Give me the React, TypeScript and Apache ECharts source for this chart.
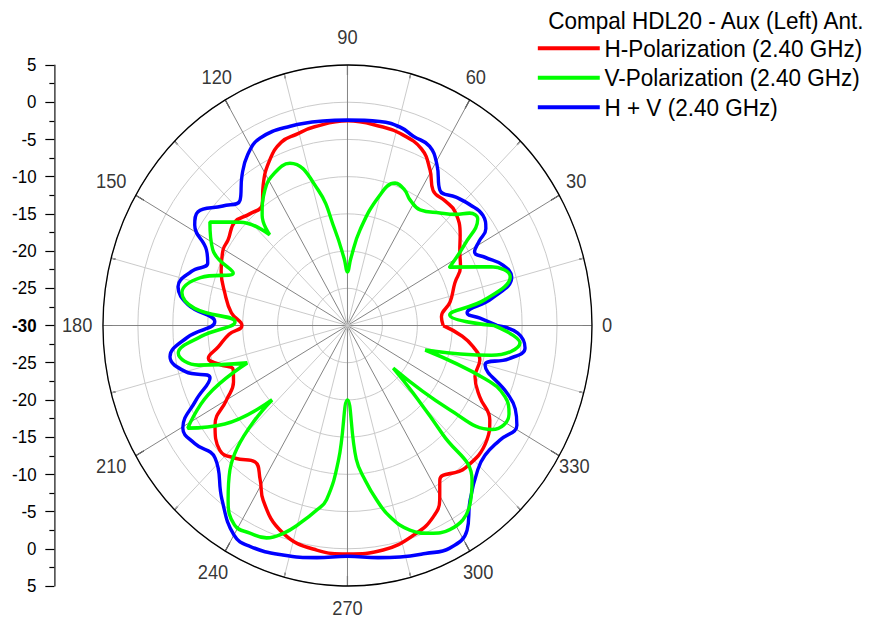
import React, { useEffect, useRef } from "react";
import * as echarts from "echarts";

// horizontal squeeze of the reference picture
const SX = 0.9386;
const W = 875 / SX;
const FONT = '"Liberation Sans", Arial, Helvetica, sans-serif';

const TITLE = "Compal HDL20 - Aux (Left) Ant.";
const NAMES = ["H-Polarization (2.40 GHz)", "V-Polarization (2.40 GHz)", "H + V (2.40 GHz)"];
const COLORS = ["#ff0000", "#00ff00", "#0000ff"];
const ANGLE_LABELS = [0, 30, 60, 90, 120, 150, 180, 210, 240, 270, 300, 330];

// H-Polarization (red): angle (deg) / gain (dB)
const H_ANG = [0, 5, 12, 20.4, 26, 32.2, 37, 44.7, 50, 56, 60.5, 66, 73.8, 79.2, 90, 100, 106, 111, 116.5, 122.6, 127, 133, 139.2, 146.1, 150.3, 158, 166, 174.2, 180, 184, 188.8, 192.5, 196, 200, 205, 210, 215.2, 222.5, 228, 234.2, 238.9, 242.8, 251.8, 261.7, 270, 279.6, 289.5, 295.5, 299.4, 302.5, 311.3, 322.4, 328.1, 333.2, 339.4, 346.3, 351, 355, 360];
const H_DB = [-16.3, -16.5, -15, -13.6, -12, -11, -9.8, -8.3, -8.2, -8.1, -6, -4, -3.1, -2.85, -2.5, -2.9, -3.3, -3.6, -5.1, -7.6, -9.7, -9.5, -8.7, -9.4, -9.5, -10.5, -11.9, -13.3, -14.9, -13, -11.3, -9.6, -11, -12.6, -12, -10, -6.8, -5.2, -6, -7.4, -5.8, -3.6, -0.6, 0.5, 0.7, 0.6, -0.4, -1.5, -3.1, -5.4, -4.5, -4.8, -6, -8.8, -10.5, -10.5, -11.8, -13.5, -16.3];

// V-Polarization (green)
const V_ANG = [0, 5.5, 10, 15.7, 21, 28.2, 33, 37.5, 40.8, 44, 48.8, 56.2, 62, 66, 70.4, 75.2, 82, 87, 90, 93, 98, 103, 110.7, 117, 123, 129.5, 132.4, 137.9, 144.8, 152.2, 156.7, 163, 169.5, 174, 178.3, 184, 188.7, 194, 199.3, 205, 211.1, 217, 222.8, 229.1, 233.9, 238.9, 243.4, 247.9, 251.8, 255.7, 259.9, 262.7, 266, 270, 274, 277, 280.1, 283.3, 288, 292.9, 298.1, 306, 310.6, 313, 316, 318.8, 322.3, 326, 332.8, 337, 340, 343.5, 349, 354.6, 360];
const V_DB = [-9, -15.3, -10, -5.8, -8, -13.4, -10, -6.5, -6.9, -8.5, -9.9, -11.3, -10.9, -10, -9.7, -11.9, -17, -21, -22.8, -21, -17, -11.3, -6.7, -7, -8.3, -10.8, -13.5, -9.3, -5.9, -8.2, -12.2, -8, -5.9, -8, -13.9, -9, -5.5, -8, -14.8, -8, -3.3, -8, -15.3, -4.3, -1, 1.3, 1.2, 0.8, -0.6, -2.6, -4.8, -6.4, -12, -20, -12, -9, -6.2, -3.6, -1.1, 0.3, 1.1, -0.2, -2.6, -10, -17, -21.3, -11.5, -5, -4, -5.5, -9, -18.4, -9, -5.2, -9];

// H + V (blue)
const HV_ANG = [0, 3, 5.6, 10, 15.5, 20, 25, 28.5, 31, 33.3, 37.4, 42.7, 48, 54, 59.3, 64, 69.5, 74.3, 80.4, 90, 97.2, 107, 116.5, 122, 126.8, 132.4, 138, 144.5, 148.3, 153.3, 157.2, 162, 167.9, 173, 178.5, 184, 189.4, 195, 199.7, 205, 210.3, 216, 223.2, 232.5, 240, 244.8, 253.3, 262, 270, 278, 283.6, 290, 296.1, 301.9, 306.8, 313.9, 318.5, 324.8, 331.1, 335, 338.3, 344.9, 349, 353.2, 357.6, 360];
const HV_DB = [-8.6, -11, -12.8, -9, -5.6, -6.3, -8.3, -9.3, -8, -6.3, -5.6, -6.1, -6.8, -7.5, -4.9, -3.2, -2.9, -2.3, -2.2, -2.4, -2.3, -2.0, -1.9, -3.0, -4.8, -7.2, -6.0, -3.7, -4.3, -7.4, -8.3, -6.5, -5.2, -7, -11, -7, -4.25, -6, -9.1, -6, -2.7, -3, -4, -0.5, 2.5, 2.8, 2.2, 1.5, 1.0, 1.5, 2.0, 2.6, 3.3, 2.4, -0.7, -3.1, -3.7, -3.3, -2.3, -3.5, -5.4, -9.6, -6.5, -4.4, -5.6, -8.6];

const SERIES_ANG = [H_ANG, V_ANG, HV_ANG];
const SERIES_DB = [H_DB, V_DB, HV_DB];
const DRAW_ORDER = [0, 2, 1];

const R_MIN = -30;
const R_MAX = 5;
const POLAR_RADIUS = 260.5;
const LABEL_GAP = 22; // px from the outer ring to the centre of an angle label
const LABEL_R = R_MAX + LABEL_GAP / (POLAR_RADIUS / (R_MAX - R_MIN));

// fine placement of each angle label (padding on the text box)
const LABEL_PAD: Record<number, number[]> = {
  0: [0, 12, 0, 0],
  30: [0, 2, 6, 0],
  60: [0, 9, 8, 0],
  90: [0, 0, 11, 0],
  120: [0, 0, 8, 4],
  150: [0, 14, 5, 0],
  180: [0, 11, 0, 0],
  210: [0, 14, 0, 0],
  240: [4, 4, 0, 0],
  270: [0, 0, 0, 0],
  300: [4, 4, 0, 0],
  330: [0, 6, 0, 0],
};

export default function App() {
  const ref = useRef<HTMLDivElement>(null);
  useEffect(() => {
    if (!ref.current) return;
    const chart = echarts.init(ref.current, undefined, { renderer: "svg" });
    const rich: Record<string, any> = {};
    ANGLE_LABELS.forEach((a) => {
      rich["a" + a] = { fontSize: 19.5, color: "#000", fontFamily: FONT, padding: LABEL_PAD[a] };
    });
    const curves = DRAW_ORDER.map((k) => ({
      type: "line",
      name: NAMES[k],
      coordinateSystem: "polar",
      polarIndex: 0,
      data: SERIES_ANG[k].map((a, i) => [SERIES_DB[k][i], a]),
      showSymbol: false,
      symbol: "none",
      smooth: 0.45,
      color: COLORS[k],
      lineStyle: { width: 3.6, color: COLORS[k] },
      silent: true,
      z: 3,
    }));
    const angleLabels = {
      type: "scatter",
      name: "angle labels",
      coordinateSystem: "polar",
      polarIndex: 0,
      clip: false,
      silent: true,
      symbolSize: 1,
      itemStyle: { color: "rgba(0,0,0,0)" },
      data: ANGLE_LABELS.map((a) => [LABEL_R, a]),
      label: {
        show: true,
        position: "inside",
        formatter: (p: any) => `{a${p.value[1]}|${p.value[1]}}`,
        rich,
      },
      z: 5,
    };
    chart.setOption({
      animation: false,
      textStyle: { fontFamily: FONT },
      title: {
        text: TITLE,
        left: 584,
        top: 9,
        padding: 0,
        textStyle: { fontSize: 24, fontWeight: "normal", color: "#000", fontFamily: FONT },
      },
      legend: {
        orient: "vertical",
        left: 573,
        top: 33.5,
        padding: 0,
        itemGap: 0,
        itemWidth: 66,
        itemHeight: 4,
        icon: "rect",
        selectedMode: false,
        data: NAMES,
        textStyle: { fontSize: 24, color: "#000", lineHeight: 29.5, fontFamily: FONT },
      },
      polar: { center: [370.2, 325.5], radius: POLAR_RADIUS },
      angleAxis: {
        type: "value",
        min: 0,
        max: 360,
        interval: 30,
        startAngle: 0,
        clockwise: false,
        axisLine: { show: true, lineStyle: { color: "#000", width: 1.4 } },
        axisTick: { show: true, inside: true, length: 10, lineStyle: { color: "#000", width: 1.2 } },
        minorTick: { show: true, splitNumber: 2, length: 5, lineStyle: { color: "#000", width: 1.2 } },
        splitLine: { show: true, lineStyle: { color: "#808080", width: 1 } },
        minorSplitLine: { show: true, lineStyle: { color: "#c8c8c8", width: 1 } },
        axisLabel: { show: false },
      },
      radiusAxis: {
        type: "value",
        min: R_MIN,
        max: R_MAX,
        interval: 5,
        axisLine: { show: false },
        axisTick: { show: false },
        axisLabel: { show: false },
        splitLine: { show: true, lineStyle: { color: "#c8c8c8", width: 1 } },
      },
      grid: { left: 57.9, top: 65, height: 521, width: 40 },
      xAxis: { type: "value", show: false, min: 0, max: 1 },
      yAxis: {
        type: "value",
        min: -35,
        max: 35,
        interval: 5,
        position: "left",
        axisLine: { show: true, lineStyle: { color: "#000", width: 1.2 } },
        axisTick: { show: true, inside: false, length: 9.6, lineStyle: { color: "#000", width: 1.2 } },
        minorTick: { show: true, splitNumber: 2, length: 5.3, lineStyle: { color: "#000", width: 1.2 } },
        splitLine: { show: false },
        axisLabel: {
          fontSize: 18,
          color: "#000",
          margin: 19,
          fontFamily: FONT,
          formatter: (v: number) => (v === 0 ? "{b|-30}" : String(Math.abs(v) - 30)),
          rich: { b: { fontSize: 18, fontWeight: "bold", color: "#000", fontFamily: FONT } },
        },
      },
      series: [...curves, angleLabels],
    });
    return () => chart.dispose();
  }, []);
  return (
    <div style={{ position: "fixed", left: 0, top: 0, width: 875, height: 623, overflow: "hidden", background: "#fff" }}>
      <div
        ref={ref}
        style={{ width: W, height: 623, transform: `scaleX(${SX})`, transformOrigin: "0 0" }}
      />
    </div>
  );
}
